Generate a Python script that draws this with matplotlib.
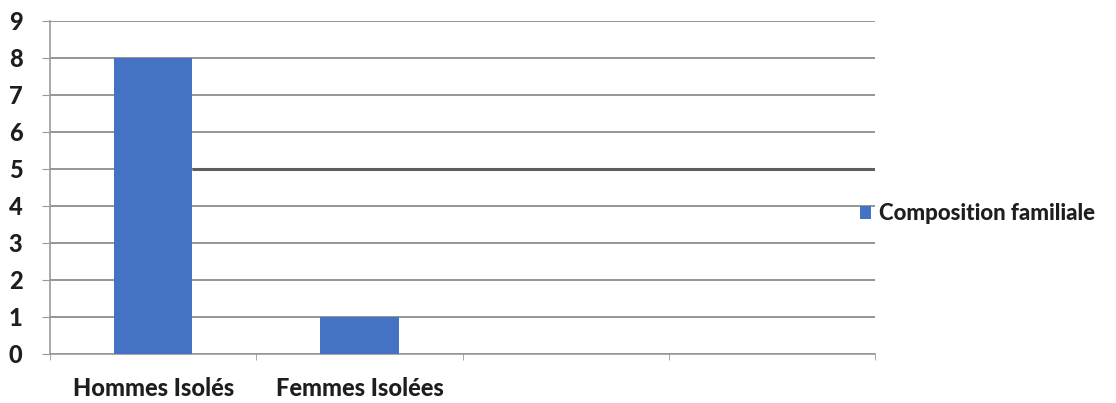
import numpy as np
import matplotlib.pyplot as plt

categories = ["Hommes Isolés", "Femmes Isolées", "", ""]
values = [8, 1, 0, 0]
series_name = "Composition familiale"
yticks = list(range(0, 10))

plt.rcParams['font.family'] = ['Lato', 'DejaVu Sans']
TXT = "#1e1e1e"

fig = plt.figure(figsize=(11.16, 4.03), dpi=100)
ax = fig.add_axes([0.045, 0.122, 0.739, 0.826])

x = np.arange(len(categories))
width = 0.38
bars = ax.bar(x, values, width=width, color="#4573c4", zorder=3, label=series_name)

ax.set_xlim(-0.5, len(categories) - 0.5)
ax.set_ylim(0, 9)
ax.set_yticks(yticks)
ax.set_yticklabels([str(t) for t in yticks], fontsize=17, fontweight="black", color=TXT)

# category labels sit between the boundary ticks
ax.set_xticks(x)
ax.set_xticklabels(categories, fontsize=17, fontweight="black", color=TXT)
ax.tick_params(axis="x", length=0, pad=17)
ax.set_xticks(np.arange(len(categories) + 1) - 0.5, minor=True)
ax.tick_params(axis="x", which="minor", length=4, color="#999999", direction="out")
ax.tick_params(axis="y", length=6, color="#999999", pad=14)

ax.grid(axis="y", color="#8c8c8c", linewidth=1.3, zorder=0)
ax.hlines(5, x[0] + width / 2, len(categories) - 0.5, color="#5e5e5e", linewidth=2.2, zorder=2)

for side in ["top", "right"]:
    ax.spines[side].set_visible(False)
ax.spines["left"].set_color("#999999")
ax.spines["bottom"].set_color("#999999")
ax.spines["left"].set_linewidth(1.2)
ax.spines["bottom"].set_linewidth(1.2)

leg = fig.legend(handles=[bars], labels=[series_name], loc="center left",
                 bbox_to_anchor=(0.757, 0.47), frameon=False,
                 prop={"size": 16, "weight": "black"}, handlelength=0.5,
                 handleheight=0.5, handletextpad=0.35, borderpad=0.2)
for t in leg.get_texts():
    t.set_color(TXT)

fig.savefig("out.png", dpi=100)
